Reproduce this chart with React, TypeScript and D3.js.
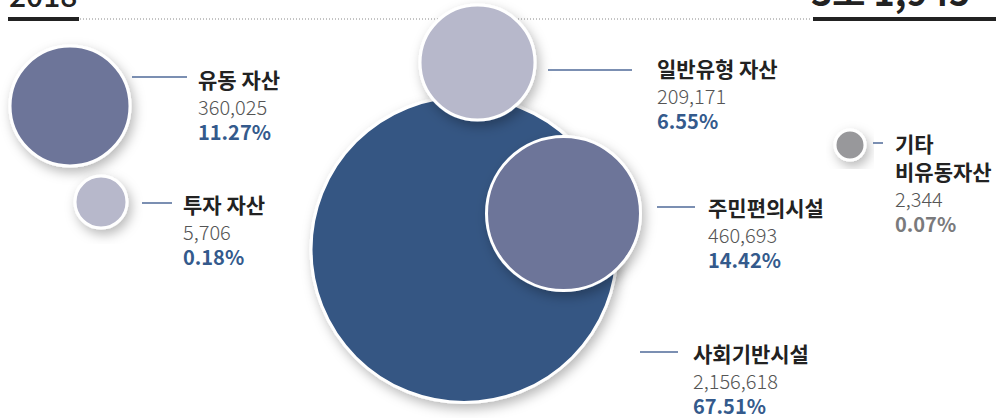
import React from "react";
import * as d3 from "d3";

const categories = ["유동 자산", "투자 자산", "일반유형 자산", "주민편의시설", "사회기반시설", "기타 비유동자산"];
const titleLines = [["유동 자산"], ["투자 자산"], ["일반유형 자산"], ["주민편의시설"], ["사회기반시설"], ["기타", "비유동자산"]];
const values = [360025, 5706, 209171, 460693, 2156618, 2344];
const yearLabel = "2018";
const totalLabel = "3조 1,945";

// layout (not data): bubble placement and label anchors
const layout = [
  { cx: 70, cy: 106, r: 60, lx1: 132, lx2: 187, ly: 77, tx: 198, ty: 88 },
  { cx: 101, cy: 202, r: 26, lx1: 142, lx2: 172, ly: 203, tx: 183, ty: 213 },
  { cx: 477.5, cy: 62.5, r: 57.5, lx1: 548, lx2: 632, ly: 70, tx: 657, ty: 77 },
  { cx: 563.5, cy: 213.5, r: 77, lx1: 657, lx2: 695, ly: 207, tx: 708, ty: 216 },
  { cx: 464, cy: 249.5, r: 153, lx1: 640, lx2: 678, ly: 352, tx: 693, ty: 362 },
  { cx: 850, cy: 145, r: 15, lx1: 873, lx2: 883, ly: 143, tx: 895, ty: 152 },
];
const fills = ["#6d7599", "#b7b8cb", "#b7b8cb", "#6d7599", "#355683", "#98989b"];
const pctColors = ["#345a8c", "#345a8c", "#345a8c", "#345a8c", "#345a8c", "#7a7a7c"];
const drawOrder = [4, 2, 3, 0, 1, 5];

const W = 996;
const H = 418;
const FONT = "'Noto Sans CJK KR', 'Noto Sans', sans-serif";

export default function App() {
  const total = d3.sum(values);
  const fmtNum = d3.format(",");
  const fmtPct = d3.format(".2%");

  return (
    <svg
      width={W}
      height={H}
      style={{ position: "absolute", left: 0, top: 0, background: "#fff" }}
      fontFamily={FONT}
    >
      <defs>
        <filter id="sh" x="-30%" y="-30%" width="160%" height="160%">
          <feDropShadow dx="3" dy="5" stdDeviation="6" floodColor="#000" floodOpacity="0.28" />
        </filter>
      </defs>

      {/* header */}
      <text x={9} y={7} fontSize={30} fontWeight={500} fill="#222">{yearLabel}</text>
      <text x={811} y={6} fontSize={36} fontWeight={700} fill="#222">{totalLabel}</text>
      <line x1={80} x2={812} y1={19} y2={19} stroke="#888" strokeWidth={1} strokeDasharray="1,2" />
      <line x1={8} x2={79} y1={19} y2={19} stroke="#222" strokeWidth={4} />
      <line x1={813} x2={W} y1={19} y2={19} stroke="#222" strokeWidth={4} />

      {/* bubbles */}
      {drawOrder.map((i) => {
        const L = layout[i];
        return (
          <circle
            key={"c" + i}
            cx={L.cx}
            cy={L.cy}
            r={L.r}
            fill={fills[i]}
            stroke="#fff"
            strokeWidth={3}
            filter="url(#sh)"
          />
        );
      })}

      {/* labels */}
      {categories.map((c, i) => {
        const L = layout[i];
        const lines = titleLines[i];
        const extra = (lines.length - 1) * 28;
        return (
          <g key={"l" + i}>
            <line x1={L.lx1} x2={L.lx2} y1={L.ly} y2={L.ly} stroke="#4f6a99" strokeWidth={1.5} />
            {lines.map((t, k) => (
              <text key={k} x={L.tx} y={L.ty + k * 28} fontSize={21} fontWeight={700} fill="#222">
                {t}
              </text>
            ))}
            <text x={L.tx} y={L.ty + extra + 27} fontSize={20} fontWeight={300} fill="#555">
              {fmtNum(values[i])}
            </text>
            <text x={L.tx} y={L.ty + extra + 52} fontSize={20} fontWeight={700} fill={pctColors[i]}>
              {fmtPct(values[i] / total)}
            </text>
          </g>
        );
      })}
    </svg>
  );
}
